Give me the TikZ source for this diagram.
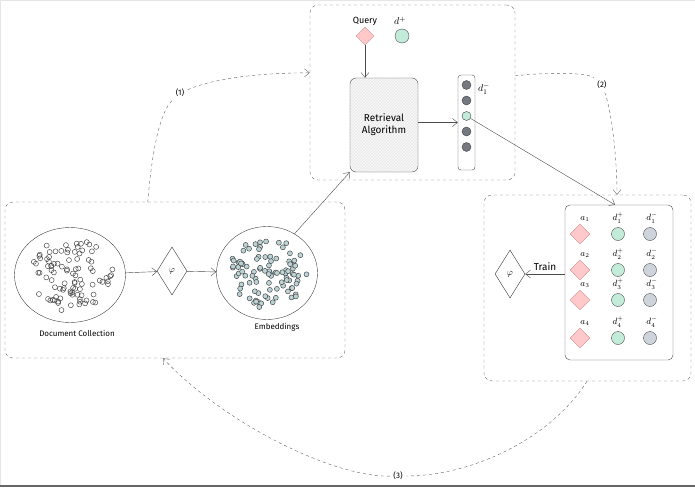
\documentclass[tikz,border=0pt]{standalone}
\usepackage{fontspec}
\setmainfont{Fira Sans}
\usetikzlibrary{shapes.geometric,arrows.meta,patterns}

\definecolor{qpink}{HTML}{FFC9C9}
\definecolor{qedge}{HTML}{D98A8A}
\definecolor{mint}{HTML}{C3EBD9}
\definecolor{slate}{HTML}{CED4DA}
\definecolor{darkdot}{HTML}{74797F}
\definecolor{embdot}{HTML}{BCD3D6}

\tikzset{
  stagebox/.style={draw=black!60, dashed, rounded corners=8pt, inner sep=0pt},
  flow/.style={draw=black!60, dashed, -{Straight Barb[length=5pt,width=8pt]}},
  link/.style={draw=black!70, -{Straight Barb[length=5pt,width=8pt]}},
  querymark/.style={diamond, draw=qedge, fill=qpink, minimum width=18pt, minimum height=18pt, inner sep=0pt},
  posmark/.style={circle, draw=black!70, fill=mint, minimum size=14pt, inner sep=0pt},
  negmark/.style={circle, draw=black!70, fill=slate, minimum size=14pt, inner sep=0pt},
  coldot/.style={circle, draw=black!75, minimum size=9pt, inner sep=0pt},
  encoder/.style={diamond, draw=black!80, minimum width=30pt, minimum height=48pt, inner sep=0pt, font=\small},
  cloud/.style={ellipse, draw=black!75, inner sep=0pt},
  rowlbl/.style={inner sep=0pt, font=\small},
  retrbox/.style={draw=black!70, rounded corners=6pt, preaction={fill=black!3}, pattern=north east lines, pattern color=black!10, align=center, minimum width=68pt, minimum height=94pt}
}

\begin{document}
\begin{tikzpicture}[x=1pt,y=-1pt]
  \useasboundingbox (0,0) rectangle (695,487);
  \draw[black!10] (0.5,486) -- (0.5,0.5) -- (695,0.5);
  \draw[black!60, line width=1.5pt] (0,486) -- (695,486);

  \node[stagebox, minimum width=205pt, minimum height=175pt] (topbox) at (412.5,92.5) {};
  \node[stagebox, minimum width=340pt, minimum height=156pt] (leftbox) at (175,280) {};
  \node[stagebox, minimum width=207pt, minimum height=186pt] (rightbox) at (587.5,288) {};

  % retrieval stage
  \node[querymark] (qry) at (365,36) {};
  \node[font=\small] (qrylbl) at (365,21) {Query};
  \node[posmark] (dpos) at (402,36) {};
  \node (dposlbl) at (400,21) {$d^{+}$};
  \node[retrbox] (retr) at (384,125) {Retrieval\\Algorithm};
  \node[draw=black!70, rounded corners=3pt, minimum width=17pt, minimum height=95pt] (col) at (466.5,122.5) {};
  \foreach \k/\col in {1/darkdot,2/darkdot,3/mint,4/darkdot,5/darkdot}
    \node[coldot, fill=\col] (c\k) at (466.5,{69.5+15.5*\k}) {};
  \node (collbl) at (484,89) {$d_1^{-}$};

  \draw[link] (qry.south) -- (qry.south |- retr.north);
  \draw[link] (retr.east |- col.west) -- (col.west);

  % encoding stage
  \node[cloud, minimum width=111pt, minimum height=95pt] (docs) at (70,275) {};
  \node[font=\footnotesize] (docslbl) at (77,333) {Document Collection};
  \node[encoder] (phileft) at (172,271) {$\varphi$};
  \node[cloud, minimum width=101pt, minimum height=93pt] (emb) at (267,273) {};
  \node[font=\footnotesize] (emblbl) at (277,327) {Embeddings};

  \pgfmathsetseed{11}
  \foreach \i in {1,...,95}{
    \pgfmathsetmacro\ang{360*rnd}
    \pgfmathsetmacro\rad{sqrt(rnd)*0.88}
    \draw[black!75, line width=0.45pt] (docs.center) ++({\rad*50*cos(\ang)},{\rad*41*sin(\ang)}) circle[radius=2.5];
  }
  \foreach \i in {1,...,95}{
    \pgfmathsetmacro\ang{360*rnd}
    \pgfmathsetmacro\rad{sqrt(rnd)*0.88}
    \draw[black!75, fill=embdot, line width=0.45pt] (emb.center) ++({\rad*45*cos(\ang)},{\rad*40*sin(\ang)}) circle[radius=2.5];
  }

  \draw[link] (docs) -- (phileft);
  \draw[link] (phileft) -- (emb);
  \draw[link] (emb.55) -- (retr.south west);

  % training stage
  \node[draw=black!70, rounded corners=5pt, minimum width=108pt, minimum height=155pt] (trainset) at (619,282.5) {};
  \foreach \r/\y in {1/234,2/270,3/300,4/338}{
    \node[querymark, minimum width=20pt, minimum height=20pt] (a\r) at (580,\y) {};
    \node[rowlbl] (albl\r) at (585,{\y-15}) {$a_{\r}$};
    \node[posmark, minimum size=13pt] (p\r) at (618,\y) {};
    \node[rowlbl] (plbl\r) at (618,{\y-16}) {$d_{\r}^{+}$};
    \node[negmark, minimum size=13pt] (n\r) at (650,\y) {};
    \node[rowlbl] (nlbl\r) at (652,{\y-16}) {$d_{\r}^{-}$};
  }
  \node[encoder] (phiright) at (510,274) {$\varphi$};
  \draw[link] (trainset.west |- phiright) -- (phiright.east) node[midway, above] {Train};

  \draw[link] (c3) -- ([xshift=-4pt]trainset.north);

  % loop
  \node[font=\footnotesize] (lblone) at (180,93) {(1)};
  \node[font=\footnotesize] (lbltwo) at (602,85) {(2)};
  \node[font=\footnotesize] (lblthree) at (398,476) {(3)};
  \draw[flow] ([xshift=143pt]leftbox.north west) .. controls (152,150) and (160,112) .. (lblone)
    .. controls (220,76) and (270,73) .. ([yshift=-68pt]topbox.north west);
  \draw[flow] ([yshift=-71pt]topbox.north east) .. controls (560,71) and (590,74) .. (lbltwo)
    .. controls (612,112) and (617,160) .. ([xshift=29.5pt]rightbox.north);
  \draw[flow] ([xshift=-0.5pt]rightbox.south) .. controls (550,440) and (470,476) .. (lblthree)
    .. controls (330,477) and (220,420) .. ([xshift=-12pt]leftbox.south);
\end{tikzpicture}
\end{document}
